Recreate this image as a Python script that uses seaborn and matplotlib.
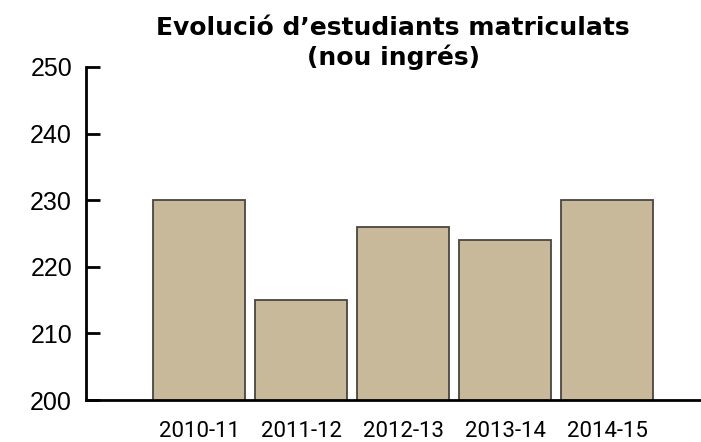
import matplotlib
matplotlib.use("Agg")
import matplotlib.pyplot as plt
import seaborn as sns
import pandas as pd

categories = ["2010-11", "2011-12", "2012-13", "2013-14", "2014-15"]
values = [230, 215, 226, 224, 230]
yticks = [200, 210, 220, 230, 240, 250]
title = "Evolució d\u2019estudiants matriculats\n(nou ingrés)"

sns.set_style("white")
plt.rcParams["font.family"] = ["Liberation Sans", "DejaVu Sans"]
plt.rcParams["text.color"] = "black"
plt.rcParams["xtick.color"] = "black"
plt.rcParams["ytick.color"] = "black"

df = pd.DataFrame({"curs": categories, "estudiants": values})

fig = plt.figure(figsize=(7.01, 4.42), dpi=100)
ax = fig.add_axes([86 / 701, 1 - 400 / 442, 1 - 86 / 701, (400 - 67) / 442])

sns.barplot(data=df, x="curs", y="estudiants", color="#C8B99A", width=0.9,
            edgecolor="#4a4540", linewidth=1.3, saturation=1, ax=ax)

ax.set_ylim(200, 250)
ax.set_xlim(-1.108, 4.92)
ax.set_yticks(yticks)
ax.set_yticklabels([str(v) for v in yticks], fontsize=18, color="black")
ax.set_xlabel("")
ax.set_ylabel("")
ax.tick_params(axis="y", left=True, direction="in", length=10, width=2,
               pad=10, color="black", labelcolor="black")
ax.tick_params(axis="x", bottom=False, length=0, pad=15, labelcolor="black")
for lbl in ax.get_xticklabels():
    lbl.set_fontfamily(["Roboto", "DejaVu Sans"])
    lbl.set_fontsize(16)

for s in ["top", "right"]:
    ax.spines[s].set_visible(False)
ax.spines["left"].set_linewidth(2)
ax.spines["left"].set_color("black")
ax.spines["bottom"].set_linewidth(2)
ax.spines["bottom"].set_color("black")
ax.spines["bottom"].set_zorder(5)

fig.text(393 / 701, 1 - 43 / 442, title, ha="center", va="center",
         fontsize=18, fontweight="bold", linespacing=1.25, color="black",
         family=["DejaVu Sans"])

fig.savefig("out.png", dpi=100)
